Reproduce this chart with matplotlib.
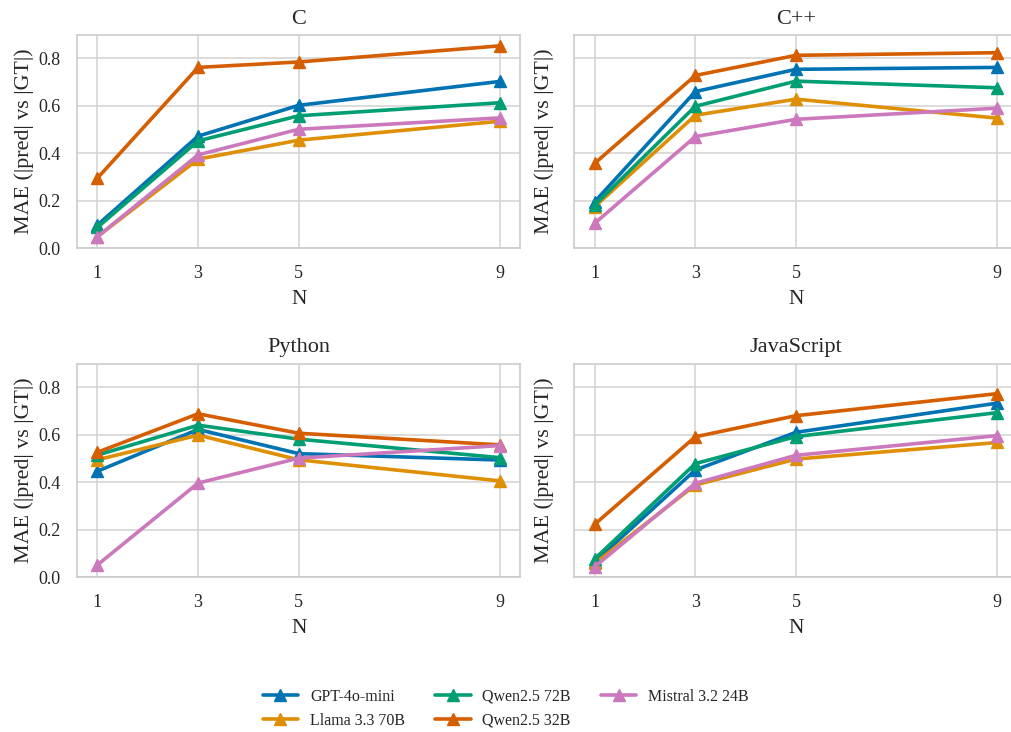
import numpy as np
import matplotlib
matplotlib.use('Agg')
import matplotlib.pyplot as plt
import seaborn as sns

sns.set_theme(style='whitegrid', palette='colorblind')
plt.rcParams['font.family'] = ['Liberation Serif', 'DejaVu Serif']

N = [1, 3, 5, 9]
models = ['GPT-4o-mini', 'Llama 3.3 70B', 'Qwen2.5 72B', 'Qwen2.5 32B', 'Mistral 3.2 24B']
colors = ['#0173b2', '#de8f05', '#029e73', '#d55e00', '#cc78bc']

# MAE values per language, one list per model (same order as models)
mae_c = [
    [0.097, 0.472, 0.602, 0.703],
    [0.048, 0.375, 0.455, 0.535],
    [0.087, 0.452, 0.558, 0.613],
    [0.295, 0.762, 0.785, 0.853],
    [0.048, 0.393, 0.501, 0.549],
]
mae_cpp = [
    [0.195, 0.660, 0.754, 0.762],
    [0.174, 0.560, 0.628, 0.548],
    [0.181, 0.598, 0.704, 0.676],
    [0.357, 0.728, 0.813, 0.824],
    [0.104, 0.470, 0.543, 0.590],
]
mae_py = [
    [0.446, 0.622, 0.520, 0.493],
    [0.494, 0.598, 0.494, 0.405],
    [0.514, 0.640, 0.581, 0.503],
    [0.526, 0.688, 0.606, 0.557],
    [0.051, 0.396, 0.501, 0.554],
]
mae_js = [
    [0.064, 0.451, 0.610, 0.733],
    [0.057, 0.388, 0.497, 0.567],
    [0.076, 0.478, 0.592, 0.693],
    [0.222, 0.591, 0.680, 0.773],
    [0.043, 0.395, 0.513, 0.596],
]
languages = ['C', 'C++', 'Python', 'JavaScript']
all_mae = [mae_c, mae_cpp, mae_py, mae_js]

W, H = 1012, 732
fig = plt.figure(figsize=(W / 100, H / 100), dpi=100)

# axes boxes in pixels: left, top, width, height
boxes = [(77.3, 34.7, 443, 213.3), (574.5, 34.7, 443, 213.3),
         (77.3, 363.5, 443, 213.5), (574.5, 363.5, 443, 213.5)]

axes = []
for i, (lx, ty, w, h) in enumerate(boxes):
    ax = fig.add_axes([lx / W, (H - ty - h) / H, w / W, h / H])
    axes.append(ax)
    for j, m in enumerate(models):
        ax.plot(N, all_mae[i][j], color=colors[j], marker='^', markersize=8.5,
                linewidth=2.6, label=m)
    ax.set_title(languages[i], fontsize=16, pad=8)
    ax.set_xticks(N)
    ax.set_ylim(0, 0.9)
    ax.set_yticks([0.0, 0.2, 0.4, 0.6, 0.8])
    ax.set_xlabel('N', fontsize=15.5, labelpad=6)
    ax.set_ylabel('MAE (|pred| vs |GT|)', fontsize=15.8, labelpad=3)
    ax.tick_params(axis='both', labelsize=13, pad=12, length=0)
    if i % 2 == 1:
        ax.set_yticklabels([])
    for s in ax.spines.values():
        s.set_color('#cccccc')
        s.set_linewidth(1.2)
    ax.grid(color='#d5d5d5', linewidth=1.2)

handles, labels = axes[0].get_legend_handles_labels()
fig.legend(handles, labels, loc='center', bbox_to_anchor=(0.5, 0.032), ncol=3,
           frameon=False, fontsize=11.5, handlelength=2.2, handletextpad=0.75,
           columnspacing=1.9, labelspacing=0.5)

fig.savefig('out.png', dpi=100)
